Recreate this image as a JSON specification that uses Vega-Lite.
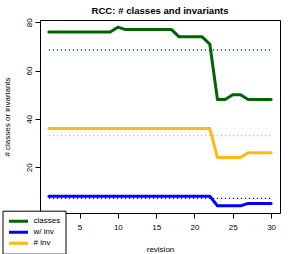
{
  "$schema": "https://vega.github.io/schema/vega-lite/v6.json",
  "width": 240,
  "height": 193,
  "autosize": "none",
  "padding": {"left": 40, "top": 20, "right": 14, "bottom": 41},
  "background": "white",
  "title": {"text": "RCC: # classes and invariants", "fontSize": 9.6, "fontWeight": "bold", "font": "Liberation Sans", "color": "black", "anchor": "middle", "offset": 2},
  "data": {"values": [
    {"rev": 1, "classes": 76, "w/ inv": 8, "# inv": 36},
    {"rev": 2, "classes": 76, "w/ inv": 8, "# inv": 36},
    {"rev": 3, "classes": 76, "w/ inv": 8, "# inv": 36},
    {"rev": 4, "classes": 76, "w/ inv": 8, "# inv": 36},
    {"rev": 5, "classes": 76, "w/ inv": 8, "# inv": 36},
    {"rev": 6, "classes": 76, "w/ inv": 8, "# inv": 36},
    {"rev": 7, "classes": 76, "w/ inv": 8, "# inv": 36},
    {"rev": 8, "classes": 76, "w/ inv": 8, "# inv": 36},
    {"rev": 9, "classes": 76, "w/ inv": 8, "# inv": 36},
    {"rev": 10, "classes": 78, "w/ inv": 8, "# inv": 36},
    {"rev": 11, "classes": 77, "w/ inv": 8, "# inv": 36},
    {"rev": 12, "classes": 77, "w/ inv": 8, "# inv": 36},
    {"rev": 13, "classes": 77, "w/ inv": 8, "# inv": 36},
    {"rev": 14, "classes": 77, "w/ inv": 8, "# inv": 36},
    {"rev": 15, "classes": 77, "w/ inv": 8, "# inv": 36},
    {"rev": 16, "classes": 77, "w/ inv": 8, "# inv": 36},
    {"rev": 17, "classes": 77, "w/ inv": 8, "# inv": 36},
    {"rev": 18, "classes": 74, "w/ inv": 8, "# inv": 36},
    {"rev": 19, "classes": 74, "w/ inv": 8, "# inv": 36},
    {"rev": 20, "classes": 74, "w/ inv": 8, "# inv": 36},
    {"rev": 21, "classes": 74, "w/ inv": 8, "# inv": 36},
    {"rev": 22, "classes": 71, "w/ inv": 8, "# inv": 36},
    {"rev": 23, "classes": 48, "w/ inv": 4, "# inv": 24},
    {"rev": 24, "classes": 48, "w/ inv": 4, "# inv": 24},
    {"rev": 25, "classes": 50, "w/ inv": 4, "# inv": 24},
    {"rev": 26, "classes": 50, "w/ inv": 4, "# inv": 24},
    {"rev": 27, "classes": 48, "w/ inv": 5, "# inv": 26},
    {"rev": 28, "classes": 48, "w/ inv": 5, "# inv": 26},
    {"rev": 29, "classes": 48, "w/ inv": 5, "# inv": 26},
    {"rev": 30, "classes": 48, "w/ inv": 5, "# inv": 26}
  ]},
  "transform": [{"fold": ["classes", "w/ inv", "# inv"], "as": ["series", "value"]}],
  "layer": [
    {
      "mark": {"type": "rule", "strokeDash": [1.2, 2.8], "strokeWidth": 1.3},
      "encoding": {
        "x": {"aggregate": "min", "field": "rev", "type": "quantitative"},
        "x2": {"aggregate": "max", "field": "rev"},
        "y": {"aggregate": "mean", "field": "value", "type": "quantitative"},
        "color": {"field": "series", "type": "nominal"}
      }
    },
    {
      "mark": {"type": "line", "strokeWidth": 3, "strokeCap": "round", "strokeJoin": "round"},
      "encoding": {
        "x": {"field": "rev", "type": "quantitative",
          "scale": {"domain": [-0.16, 31.16], "nice": false, "zero": false},
          "axis": {"title": "revision", "values": [5, 10, 15, 20, 25, 30], "grid": false, "domain": false,
            "tickColor": "black", "tickSize": 5, "labelFontSize": 8, "labelFont": "Liberation Sans", "labelColor": "black",
            "labelPadding": 5, "titleFontSize": 8, "titleFont": "Liberation Sans", "titleFontWeight": "normal", "titleColor": "black", "titlePadding": 14}},
        "y": {"field": "value", "type": "quantitative",
          "scale": {"domain": [1.04, 80.96], "nice": false, "zero": false},
          "axis": {"title": "# classes or invariants", "values": [20, 40, 60, 80], "grid": false, "domain": false,
            "tickColor": "black", "tickSize": 5, "labelFontSize": 8, "labelFont": "Liberation Sans", "labelColor": "black",
            "labelAngle": -90, "labelAlign": "center", "labelBaseline": "alphabetic", "labelPadding": 4,
            "titleFontSize": 8, "titleFont": "Liberation Sans", "titleFontWeight": "normal", "titleColor": "black", "titlePadding": 14}},
        "color": {"field": "series", "type": "nominal",
          "scale": {"domain": ["classes", "w/ inv", "# inv"], "range": ["#006400", "#0000FF", "#FFB90F"]}}
      }
    }
  ],
  "config": {
    "view": {"stroke": "black", "strokeWidth": 1},
    "legend": {"title": null, "orient": "none", "legendX": -37.5, "legendY": 190.7,
      "padding": 5, "strokeColor": "black", "fillColor": "white", "cornerRadius": 0,
      "symbolType": "stroke", "symbolStrokeWidth": 3, "symbolSize": 361, "symbolDash": [],
      "clipHeight": 11, "rowPadding": -1,
      "labelFontSize": 8, "labelFont": "Liberation Sans", "labelColor": "black", "labelOffset": 4}
  }
}
